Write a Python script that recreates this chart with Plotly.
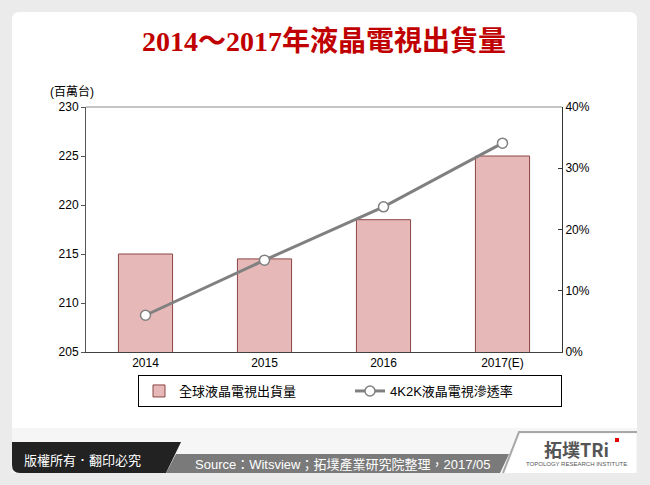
import plotly.graph_objects as go

years = ["2014", "2015", "2016", "2017(E)"]
shipments = [215.0, 214.5, 218.5, 225.0]
penetration = [0.06, 0.15, 0.237, 0.341]
bar_name = "全球液晶電視出貨量"
line_name = "4K2K液晶電視滲透率"
title_text = "2014～2017年液晶電視出貨量"
unit_text = "(百萬台)"
source_text = "Source：Witsview；拓墣產業研究院整理，2017/05"
copyright_text = "版權所有．翻印必究"

W, H = 650, 485
L, R, T, B = 86, 562, 107, 352


def px(x):
    return (x - L) / (R - L)


def py(y):
    return (B - y) / (B - T)


FONT = "Liberation Sans, Arial, Noto Sans CJK TC, sans-serif"

fig = go.Figure()
fig.add_trace(go.Bar(
    x=years, y=shipments, name=bar_name,
    marker=dict(color="#e6b8b7", line=dict(color="#8c4646", width=1)),
    yaxis="y", width=0.455,
))
fig.add_trace(go.Scatter(
    x=years, y=penetration, name=line_name, mode="lines+markers",
    line=dict(color="#808080", width=3),
    marker=dict(symbol="circle", size=10, color="white",
                line=dict(color="#808080", width=1.5)),
    yaxis="y2",
))

shapes = []
# card background
x0, x1, y0, y1, r = px(12), px(637), py(12), py(473), 8
rx = r / (R - L)
ry = r / (B - T)
card = (f"M {x0+rx},{y0} L {x1-rx},{y0} Q {x1},{y0} {x1},{y0-ry} "
        f"L {x1},{y1+ry} Q {x1},{y1} {x1-rx},{y1} L {x0+rx},{y1} "
        f"Q {x0},{y1} {x0},{y1+ry} L {x0},{y0-ry} Q {x0},{y0} {x0+rx},{y0} Z")
shapes.append(dict(type="path", path=card, xref="paper", yref="paper",
                   fillcolor="white", line=dict(width=0), layer="below"))
# footer light area
shapes.append(dict(type="rect", xref="paper", yref="paper",
                   x0=px(12), x1=px(637), y0=py(473), y1=py(428),
                   fillcolor="#f6f6f6", line=dict(width=0), layer="below"))
# dark copyright bar
dk = (f"M {px(12)},{py(442)} L {px(181)},{py(442)} L {px(166)},{py(473)} "
      f"L {px(20)},{py(473)} Q {px(12)},{py(473)} {px(12)},{py(465)} Z")
shapes.append(dict(type="path", path=dk, xref="paper", yref="paper",
                   fillcolor="#222222", line=dict(width=0), layer="below"))
# gray source bar
gy = (f"M {px(176)},{py(454)} L {px(509)},{py(454)} L {px(500)},{py(473)} "
      f"L {px(166)},{py(473)} Z")
shapes.append(dict(type="path", path=gy, xref="paper", yref="paper",
                   fillcolor="#7a7a7a", line=dict(width=0), layer="below"))
# logo outline
lg = (f"M {px(503)},{py(473)} L {px(519)},{py(432)} L {px(637)},{py(432)}")
shapes.append(dict(type="path", path=lg, xref="paper", yref="paper",
                   line=dict(color="#a8a8a8", width=2), layer="below"))
lgfill = (f"M {px(505)},{py(473)} L {px(520)},{py(434)} L {px(636)},{py(434)} "
          f"L {px(636)},{py(473)} Z")
shapes.append(dict(type="path", path=lgfill, xref="paper", yref="paper",
                   fillcolor="white", line=dict(width=0), layer="below"))
# top border of plot
shapes.append(dict(type="line", xref="paper", yref="paper",
                   x0=0, x1=1, y0=1, y1=1,
                   line=dict(color="#8a8a8a", width=1)))
# red dot on logo i
shapes.append(dict(type="rect", xref="paper", yref="paper",
                   x0=px(615), x1=px(619), y0=py(438), y1=py(442),
                   fillcolor="#e00000", line=dict(width=0)))

annotations = [
    dict(text=f"<b>{title_text}</b>", x=px(324), y=py(42), xref="paper",
         yref="paper", showarrow=False, xanchor="center", yanchor="middle",
         font=dict(family="Liberation Serif, Noto Sans CJK TC, serif",
                   size=28, color="#c00000")),
    dict(text=unit_text, x=px(48), y=py(91), xref="paper", yref="paper",
         showarrow=False, xanchor="left", yanchor="middle",
         font=dict(family=FONT, size=12, color="#000")),
    dict(text=copyright_text, x=px(22), y=py(459), xref="paper", yref="paper",
         showarrow=False, xanchor="left", yanchor="middle",
         font=dict(family="Noto Sans CJK TC, sans-serif", size=13, color="white")),
    dict(text=source_text, x=px(193), y=py(464), xref="paper", yref="paper",
         showarrow=False, xanchor="left", yanchor="middle",
         font=dict(family=FONT, size=13, color="white")),
    dict(text="<b>拓墣TRi</b>", x=px(576), y=py(449), xref="paper", yref="paper",
         showarrow=False, xanchor="center", yanchor="middle",
         font=dict(family="Noto Sans CJK TC, sans-serif", size=18, color="#555")),
    dict(text="TOPOLOGY RESEARCH INSTITUTE", x=px(576), y=py(464), xref="paper",
         yref="paper", showarrow=False, xanchor="center", yanchor="middle",
         font=dict(family=FONT, size=6, color="#555")),
]

fig.update_layout(
    width=W, height=H,
    margin=dict(l=L, r=W - R, t=T, b=H - B, pad=0),
    paper_bgcolor="#ebebeb",
    plot_bgcolor="rgba(0,0,0,0)",
    font=dict(family=FONT, size=12, color="#000"),
    showlegend=True,
    legend=dict(orientation="h", x=px(138), y=py(375), xanchor="left",
                yanchor="top", bgcolor="rgba(255,255,255,0)",
                bordercolor="#000", borderwidth=1,
                font=dict(family=FONT, size=13, color="#000"),
                itemwidth=30, tracegroupgap=0, entrywidth=166,
                entrywidthmode="pixels"),
    xaxis=dict(type="category", range=[-0.5, 3.5], showline=True,
               linecolor="#404040", linewidth=1, ticks="", showgrid=False,
               tickfont=dict(size=12), fixedrange=True),
    yaxis=dict(range=[205, 230], dtick=5, showline=True, linecolor="#555",
               linewidth=1, ticks="outside", ticklen=4, tickcolor="#555",
               showgrid=False, zeroline=False, tickfont=dict(size=12)),
    yaxis2=dict(range=[0, 0.4], dtick=0.1, tickformat=".0%", overlaying="y",
                side="right", showline=True, linecolor="#333", linewidth=1,
                ticks="inside", ticklen=4, tickcolor="#333", showgrid=False,
                zeroline=False, tickfont=dict(size=12)),
    shapes=shapes,
    annotations=annotations,
)

fig.write_html("out.html")
